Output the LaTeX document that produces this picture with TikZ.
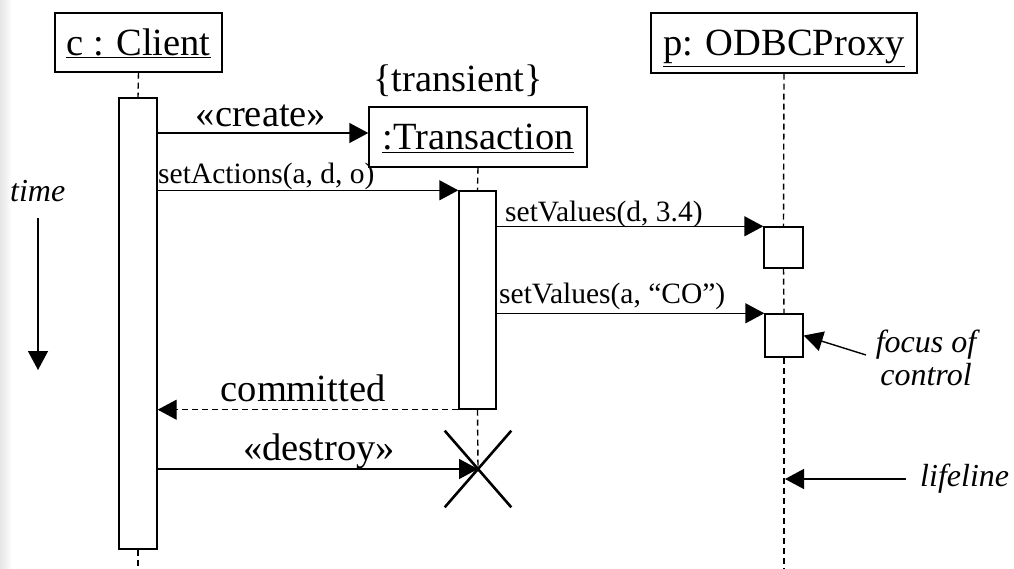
\documentclass[tikz,border=0pt]{standalone}
\usepackage{fontspec}
\setmainfont{Liberation Serif}
\usetikzlibrary{arrows.meta,shapes.misc}
\tikzset{
  objbox/.style={draw,line width=1.4pt,inner sep=0pt,minimum height=59pt,text height=28pt,text depth=2pt,font=\fontsize{38.5}{40}\selectfont},
  actbox/.style={draw,fill=white,line width=1.4pt,inner sep=0pt},
  life/.style={line width=1.4pt,dash pattern=on 6pt off 4pt},
  msg/.style={line width=1.4pt,-{Triangle[length=19pt,width=20pt]}},
  retmsg/.style={line width=1.4pt,dash pattern=on 6pt off 4pt,-{Triangle[length=19pt,width=20pt]}},
  bigtxt/.style={inner sep=0pt,font=\fontsize{38.5}{40}\selectfont},
  smalltxt/.style={inner sep=0pt,font=\fontsize{29.5}{30}\selectfont},
  note/.style={inner sep=0pt,font=\fontsize{32}{33}\selectfont\itshape},
}
\begin{document}
\begin{tikzpicture}[x=1pt,y=-1pt]
\useasboundingbox (0,0) rectangle (1014,569);
\shade[left color=black!10,right color=white] (0,0) rectangle (12,569);

% objects
\node[objbox,minimum width=167pt] (cbox) at (138.5,42.5) {\underline{c : Client}};
\node[objbox,minimum width=218pt,minimum height=60pt] (tbox) at (478,137) {\underline{:Transaction}};
\node[bigtxt,anchor=base] (trans) at (458,92) {\{transient\}};
\node[objbox,minimum width=266pt,minimum height=60pt] (pbox) at (784,43) {\underline{p: ODBCProxy}};

% activations
\node[actbox,minimum width=38pt,minimum height=451pt] (ca) at (138,323.5) {};
\node[actbox,minimum width=37pt,minimum height=218pt] (ta) at (477.5,300) {};
\node[actbox,minimum width=39pt,minimum height=41pt] (pa1) at (783.5,247.5) {};
\node[actbox,minimum width=38pt,minimum height=43pt] (pa2) at (784,335.5) {};

% lifelines
\coordinate (cend) at (138,569);
\coordinate (pend) at (784,569);
\coordinate (xc) at (478,469);
\draw[life] (cbox.south) -- (ca.north);
\draw[life] (ca.south) -- (cend);
\draw[life] (tbox.south) -- (ta.north);
\draw[life] (ta.south) -- (xc);
\draw[life] (pbox.south) -- (pa1.north);
\draw[life] (pa1.south) -- (pa2.north);
\draw[life] (pa2.south) -- (pend);

% destruction
\node[cross out,draw,line width=2.6pt,minimum width=64pt,minimum height=74pt,inner sep=0pt] (x) at (xc) {};

% messages
\coordinate (ycreate) at (0,133);
\draw[msg] (ca.east |- ycreate) -- (tbox.west |- ycreate);
\node[bigtxt,anchor=base] (lcreate) at (261,127) {«create»};
\draw[msg] (ca.east |- ta.north west) -- (ta.north west);
\node[smalltxt,anchor=base west] (lsetact) at (158,184) {setActions(a, d, o)};
\draw[msg] (ta.east |- pa1.north west) -- (pa1.north west);
\node[smalltxt,anchor=base west] (lsv1) at (505,222) {setValues(d, 3.4)};
\draw[msg] (ta.east |- pa2.north west) -- (pa2.north west);
\node[smalltxt,anchor=base west] (lsv2) at (499,303) {setValues(a, “CO”)};
\draw[retmsg] (ta.south west) -- (ca.east |- ta.south west);
\node[bigtxt,anchor=base] (lcomm) at (303,401) {committed};
\draw[msg] (ca.east |- xc) -- (x.center);
\node[bigtxt,anchor=base] (ldest) at (319,460) {«destroy»};

% annotations
\node[note,anchor=base west] (time) at (10,202) {time};
\coordinate (t1) at (38,218);
\coordinate (t2) at (38,370);
\draw[msg] (t1) -- (t2);

\node[note,anchor=base,align=center] (foc) at (926,385) {focus of\\control};
\coordinate (f1) at (866,355);
\draw[msg] (f1) -- (pa2.east);

\node[note,anchor=base west] (lifel) at (920,486) {lifeline};
\coordinate (l1) at (906,479);
\coordinate (l2) at (785,479);
\draw[msg] (l1) -- (l2);
\end{tikzpicture}
\end{document}
